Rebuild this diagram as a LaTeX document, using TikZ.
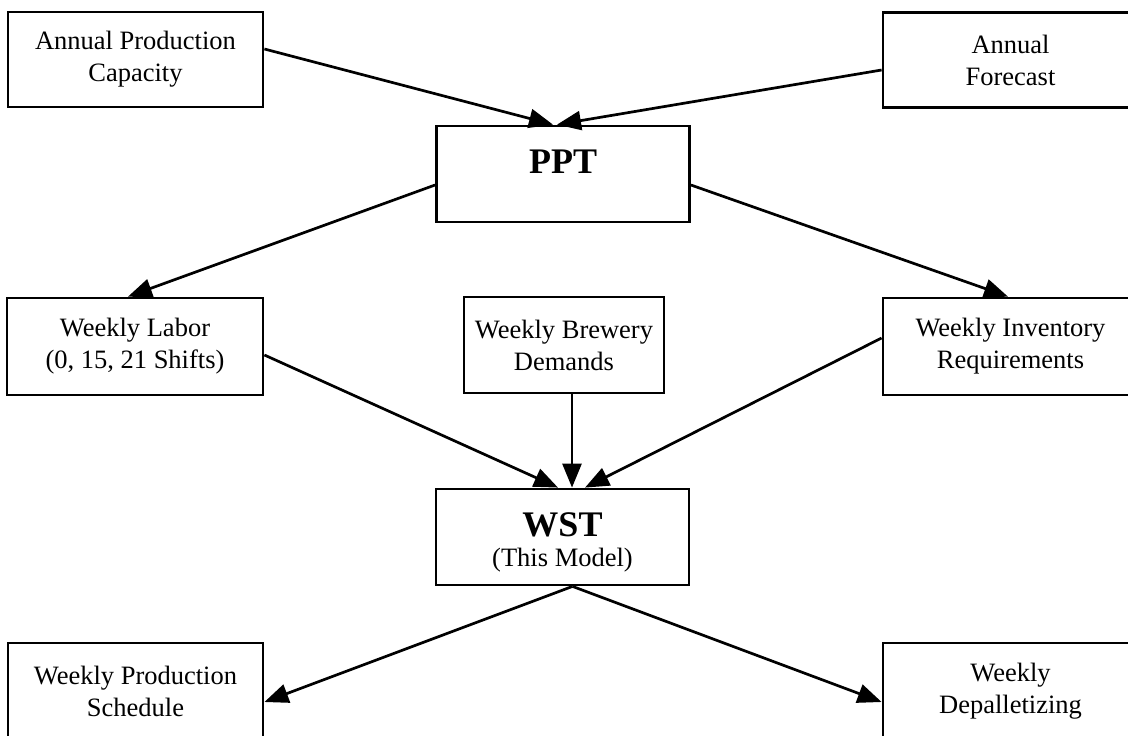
\documentclass[tikz,border=0pt]{standalone}
\usepackage{fontspec}
\setmainfont{Liberation Serif}
\usetikzlibrary{arrows.meta}
\begin{document}
\begin{tikzpicture}[x=1pt,y=-1pt,
  box/.style={draw,line width=2.8pt,rectangle,inner sep=0pt,align=center,
    font=\fontsize{26.5}{32}\selectfont},
  wide/.style={minimum width=255pt,minimum height=95pt},
  big/.style={minimum width=253pt,minimum height=96pt},
  lbl/.style={inner sep=0pt,anchor=base,font=\fontsize{26.5}{32}\selectfont},
  title/.style={inner sep=0pt,anchor=base,font=\bfseries\fontsize{36}{40}\selectfont},
  arr/.style={line width=2.7pt,-{Triangle[length=24pt,width=19pt]}}]
\useasboundingbox (0,0) rectangle (1128,736);
\clip (0,0) rectangle (1128,736);
% top row
\node[box,wide] (apc) at (135.5,59.5) {Annual Production\\Capacity};
\node[box,wide] (af) at (1010.5,60) {Annual\\Forecast};
\node[box,big] (ppt) at (563,174) {};
\node[title] (ppttitle) at (563,173) {PPT};
% middle row
\node[box,wide,minimum width=256pt,minimum height=97pt] (wl) at (135,346.5) {Weekly Labor\\(0, 15, 21 Shifts)};
\node[box,minimum width=200pt,minimum height=96pt] (wbd) at (564,345) {Weekly Brewery\\Demands};
\node[box,wide,minimum height=97pt] (wir) at (1010.5,346.5) {Weekly Inventory\\Requirements};
% WST
\node[box,big] (wst) at (562.5,537) {};
\node[title] (wsttitle) at (562.5,536) {WST};
\node[lbl] (wstsub) at (562.5,566) {(This Model)};
% bottom row
\node[box,wide,minimum height=96pt] (wps) at (135.5,691) {Weekly Production\\Schedule};
\node[box,wide,minimum height=96pt] (wd) at (1010.5,691) {Weekly\\Depalletizing};
% connectors
\draw[arr] ([yshift=10.5pt]apc.east) -- ([xshift=-10pt]ppt.north);
\draw[arr] ([yshift=-10pt]af.west) -- ([xshift=-6pt]ppt.north);
\draw[arr] ([yshift=-11pt]ppt.west) -- ([xshift=-7pt]wl.north);
\draw[arr] ([yshift=-11pt]ppt.east) -- ([xshift=-2.5pt]wir.north);
\draw[arr] ([yshift=-8.5pt]wl.east) -- ([xshift=-4.5pt]wst.north);
\draw[arr] ([xshift=8pt]wbd.south) -- ([xshift=9.5pt]wst.north);
\draw[arr] ([yshift=8.5pt]wir.west) -- ([xshift=22.5pt]wst.north);
\draw[arr] ([xshift=10pt]wst.south) -- ([yshift=-11pt]wps.east);
\draw[arr] ([xshift=10pt]wst.south) -- ([yshift=-11pt]wd.west);
\end{tikzpicture}
\end{document}
